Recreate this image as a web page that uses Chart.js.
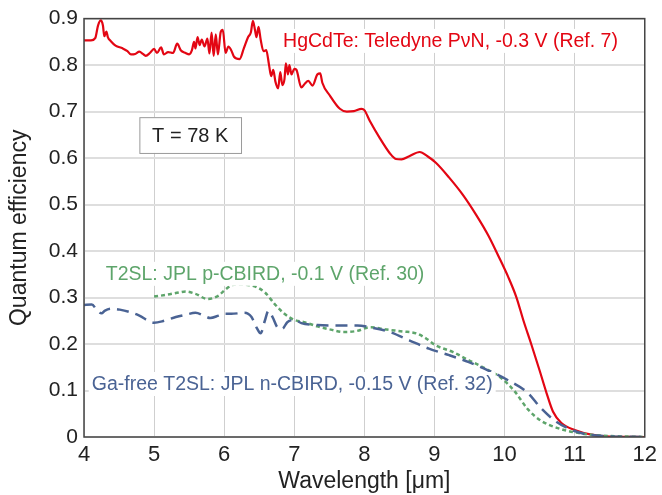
<!DOCTYPE html>
<html>
<head>
<meta charset="utf-8">
<script src="https://cdn.jsdelivr.net/npm/chart.js@4/dist/chart.umd.min.js"></script>
<style>
  body { margin: 0; background: #fff; }
  #wrap { width: 662px; height: 495px; }
</style>
</head>
<body>
<div id="wrap"><canvas id="qe"></canvas></div>
<script>
// HgCdTe: Teledyne PvN, -0.3 V
var redWl = [4.0, 4.1, 4.16, 4.2, 4.24, 4.27, 4.29, 4.32, 4.34, 4.38, 4.45, 4.55, 4.62, 4.67, 4.73, 4.79, 4.84, 4.88, 4.94, 5.0,
  5.04, 5.1, 5.14, 5.2, 5.27, 5.33, 5.38, 5.45, 5.5, 5.54, 5.57, 5.59, 5.62, 5.65, 5.68, 5.72, 5.76, 5.79, 5.82, 5.85,
  5.88, 5.91, 5.95, 5.98, 6.02, 6.06, 6.1, 6.14, 6.22, 6.28, 6.34, 6.38, 6.41, 6.44, 6.46, 6.49, 6.52, 6.56, 6.6, 6.64,
  6.67, 6.7, 6.73, 6.77, 6.8, 6.83, 6.86, 6.88, 6.91, 6.93, 6.96, 7.0, 7.03, 7.1, 7.15, 7.2, 7.26, 7.33, 7.37, 7.4,
  7.51, 7.65, 7.75, 7.85, 7.96, 8.0, 8.08, 8.22, 8.36, 8.45, 8.53, 8.64, 8.79, 8.9, 9.02, 9.21, 9.4, 9.59, 9.77, 9.91,
  10.05, 10.17, 10.27, 10.38, 10.5, 10.6, 10.69, 10.81, 11.0, 11.24, 11.5, 12.0];
var redQe = [0.853, 0.853, 0.858, 0.885, 0.896, 0.885, 0.862, 0.872, 0.86, 0.852, 0.842, 0.836, 0.83, 0.823, 0.824, 0.829, 0.824, 0.82, 0.826, 0.835,
  0.826, 0.838, 0.823, 0.828, 0.826, 0.846, 0.832, 0.826, 0.823, 0.832, 0.85, 0.836, 0.86, 0.843, 0.855, 0.84, 0.857, 0.825, 0.87, 0.82,
  0.866, 0.823, 0.871, 0.876, 0.826, 0.84, 0.832, 0.818, 0.813, 0.836, 0.86, 0.87, 0.895, 0.875, 0.86, 0.882, 0.855, 0.83, 0.832, 0.8,
  0.776, 0.79, 0.765, 0.75, 0.785, 0.757, 0.77, 0.804, 0.78, 0.8, 0.78, 0.792, 0.79, 0.752, 0.76, 0.766, 0.756, 0.78, 0.782, 0.762,
  0.734, 0.706, 0.7, 0.701, 0.706, 0.703, 0.679, 0.643, 0.611, 0.598, 0.597, 0.604, 0.613, 0.604, 0.59, 0.558, 0.522, 0.479, 0.433, 0.39,
  0.345, 0.3, 0.25, 0.2, 0.143, 0.094, 0.055, 0.03, 0.015, 0.005, 0.001, 0.0];

// T2SL: JPL p-CBIRD, -0.1 V
var greenWl = [5.0, 5.18, 5.36, 5.45, 5.59, 5.76, 5.92, 6.0, 6.1, 6.19, 6.39, 6.58, 6.72, 6.86, 7.0, 7.14, 7.33, 7.52, 7.7, 7.89,
  8.08, 8.32, 8.55, 8.74, 8.88, 9.02, 9.26, 9.49, 9.73, 9.96, 10.15, 10.33, 10.52, 10.76, 11.0, 11.3, 12.0];
var greenQe = [0.302, 0.306, 0.311, 0.313, 0.308, 0.297, 0.304, 0.315, 0.326, 0.328, 0.326, 0.311, 0.286, 0.265, 0.252, 0.247, 0.238, 0.231, 0.226, 0.228,
  0.236, 0.231, 0.227, 0.223, 0.212, 0.197, 0.183, 0.165, 0.147, 0.126, 0.097, 0.06, 0.035, 0.019, 0.01, 0.004, 0.0];

// Ga-free T2SL: JPL n-CBIRD, -0.15 V
var blueWl = [4.0, 4.11, 4.19, 4.25, 4.3, 4.39, 4.51, 4.65, 4.79, 4.93, 5.0, 5.12, 5.31, 5.45, 5.59, 5.71, 5.8, 5.92, 6.0, 6.1,
  6.29, 6.39, 6.46, 6.52, 6.58, 6.63, 6.69, 6.76, 6.83, 6.9, 7.0, 7.1, 7.33, 7.6, 7.9, 8.08, 8.36, 8.64, 8.92, 9.21,
  9.49, 9.77, 10.05, 10.33, 10.52, 10.71, 10.9, 11.13, 11.4, 12.0];
var blueQe = [0.284, 0.285, 0.272, 0.266, 0.272, 0.276, 0.274, 0.269, 0.261, 0.249, 0.246, 0.249, 0.258, 0.263, 0.267, 0.261, 0.256, 0.261, 0.265, 0.265,
  0.267, 0.258, 0.236, 0.223, 0.25, 0.271, 0.258, 0.236, 0.233, 0.247, 0.252, 0.245, 0.241, 0.24, 0.24, 0.236, 0.226, 0.208, 0.19, 0.176,
  0.161, 0.143, 0.122, 0.095, 0.062, 0.036, 0.019, 0.007, 0.002, 0.0];

var xTicks = [4, 5, 6, 7, 8, 9, 10, 11, 12];
var yTicks = [0, 0.1, 0.2, 0.3, 0.4, 0.5, 0.6, 0.7, 0.8, 0.9];

var RED = '#e30613', GREEN = '#5ea56b', BLUE = '#4a6394';
var FONT = '"Liberation Sans", Arial, sans-serif';

function pts(xs, ys) {
  var out = [];
  for (var i = 0; i < xs.length; i++) out.push({ x: xs[i], y: ys[i] });
  return out;
}

// labels placed in data coordinates
var notes = [
  { text: 'HgCdTe: Teledyne P\u03BDN, -0.3 V (Ref. 7)', x: 6.84, y: 0.852, color: RED },
  { text: 'T2SL: JPL p-CBIRD, -0.1 V (Ref. 30)', x: 4.31, y: 0.351, color: GREEN },
  { text: 'Ga-free T2SL: JPL n-CBIRD, -0.15 V (Ref. 32)', x: 4.11, y: 0.114, color: BLUE }
];

var notePlugin = {
  id: 'notes',
  afterDatasetsDraw: function(chart) {
    var ctx = chart.ctx, xs = chart.scales.x, ys = chart.scales.y, a = chart.chartArea;
    ctx.save();
    ctx.font = '19.5px ' + FONT;
    ctx.textBaseline = 'middle';
    notes.forEach(function(n) {
      var px = xs.getPixelForValue(n.x), py = ys.getPixelForValue(n.y);
      var w = ctx.measureText(n.text).width;
      ctx.fillStyle = '#fff';
      ctx.fillRect(px - 3, py - 12, w + 6, 24);
      ctx.fillStyle = n.color;
      ctx.fillText(n.text, px, py + 1);
    });
    // temperature box
    var l = xs.getPixelForValue(4.79), r = xs.getPixelForValue(6.24);
    var t = ys.getPixelForValue(0.688), b = ys.getPixelForValue(0.611);
    ctx.fillStyle = '#fff';
    ctx.fillRect(l, t, r - l, b - t);
    ctx.strokeStyle = '#9a9a9a';
    ctx.lineWidth = 1;
    ctx.strokeRect(l + 0.5, t + 0.5, r - l, b - t);
    ctx.font = '20px ' + FONT;
    ctx.fillStyle = '#222';
    ctx.textAlign = 'center';
    ctx.fillText('T = 78 K', (l + r) / 2, (t + b) / 2 + 1);
    // frame
    ctx.strokeStyle = '#444';
    ctx.lineWidth = 1.5;
    ctx.strokeRect(a.left, a.top, a.right - a.left, a.bottom - a.top);
    ctx.restore();
  }
};

new Chart(document.getElementById('qe'), {
  type: 'line',
  data: {
    datasets: [
      { data: pts(blueWl, blueQe), borderColor: BLUE, borderWidth: 2.5, borderDash: [12, 7] },
      { data: pts(greenWl, greenQe), borderColor: GREEN, borderWidth: 2.5, borderDash: [4, 3] },
      { data: pts(redWl, redQe), borderColor: RED, borderWidth: 2.2 }
    ]
  },
  options: {
    responsive: true,
    maintainAspectRatio: false,
    animation: false,
    layout: { padding: { top: 17, right: 11, left: 0, bottom: 0 } },
    elements: {
      point: { radius: 0 },
      line: { cubicInterpolationMode: 'monotone', fill: false }
    },
    plugins: { legend: { display: false }, tooltip: { enabled: false } },
    scales: {
      x: {
        type: 'linear', min: 4, max: 12,
        afterBuildTicks: function(s) { s.ticks = xTicks.map(function(v) { return { value: v }; }); },
        afterFit: function(s) { s.height = 58; },
        grid: { color: '#cfcfcf', lineWidth: 1, drawTicks: false },
        border: { display: false },
        ticks: { color: '#222', padding: 5, font: { size: 22, family: FONT } },
        title: { display: true, text: 'Wavelength [\u03BCm]', color: '#222', padding: { top: 0, bottom: 0 }, font: { size: 23, family: FONT } }
      },
      y: {
        type: 'linear', min: 0, max: 0.9,
        afterBuildTicks: function(s) { s.ticks = yTicks.map(function(v) { return { value: v }; }); },
        afterFit: function(s) { s.width = 84; },
        grid: { color: '#dedede', lineWidth: 2, drawTicks: false },
        border: { display: false },
        ticks: {
          color: '#222', padding: 6, font: { size: 21, family: FONT },
          callback: function(v) { return v === 0 ? '0' : v.toFixed(1); }
        },
        title: { display: true, text: 'Quantum efficiency', color: '#222', padding: { top: 6, bottom: 0 }, font: { size: 23, family: FONT } }
      }
    }
  },
  plugins: [notePlugin]
});
</script>
</body>
</html>
